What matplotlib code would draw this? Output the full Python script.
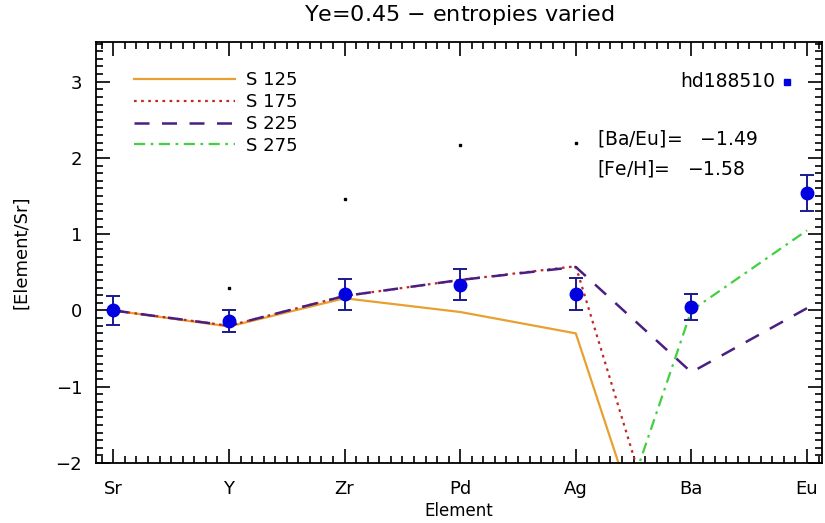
import numpy as np
import matplotlib
matplotlib.use("Agg")
import matplotlib.pyplot as plt
from matplotlib.ticker import MultipleLocator, AutoMinorLocator

# elements along the x axis
elements = ["Sr", "Y", "Zr", "Pd", "Ag", "Ba", "Eu"]

# observed abundances of hd188510 with errors
obs = [0.0, -0.14, 0.21, 0.34, 0.21, 0.04, 1.54]
obs_err = [0.19, 0.14, 0.20, 0.20, 0.21, 0.17, 0.24]

# model curves for the different entropies (values below -2 run off the plot)
s125 = [0.0, -0.21, 0.16, -0.02, -0.30, -4.9, -4.5]
s175 = [0.0, -0.20, 0.19, 0.40, 0.58, -4.4, -4.0]
s225 = [0.0, -0.20, 0.19, 0.40, 0.57, -0.81, 0.03]
s275 = [np.nan, np.nan, np.nan, np.nan, -4.45, 0.0, 1.05]

# stray small points in the original plot
dot_x = [1, 2, 3, 4]
dot_y = [0.29, 1.46, 2.17, 2.20]

x = np.arange(len(elements))

fig = plt.figure(figsize=(8.25, 5.23), dpi=100)
ax = fig.add_axes([0.1164, 0.1147, 0.880, 0.805])

ax.plot(x, s125, color="#e8a030", lw=1.6, ls="-", label="S 125")
ax.plot(x, s175, color="#c02828", lw=1.6, ls=(0, (1.2, 2)), label="S 175")
ax.plot(x, s225, color="#4a1e82", lw=1.8, ls=(0, (6, 5)), label="S 225")
ax.plot(x, s275, color="#40d040", lw=1.6, ls=(0, (5, 2.5, 1.2, 2.5)), label="S 275")

ax.errorbar(x, obs, yerr=obs_err, fmt="o", color="#0000e0", ecolor="#1a1a90",
            ms=9, capsize=5, elinewidth=1.4, capthick=1.4, zorder=5)
ax.plot(dot_x, dot_y, "s", color="black", ms=2, ls="none")

ax.set_xlim(-0.15, 6.13)
ax.set_ylim(-2, 3.52)
ax.set_xticks(x)
ax.set_xticklabels(elements)
ax.yaxis.set_major_locator(MultipleLocator(1))
ax.xaxis.set_minor_locator(AutoMinorLocator(10))
ax.yaxis.set_minor_locator(AutoMinorLocator(10))
ax.tick_params(which="both", direction="in", top=True, right=True, labelsize=13, width=1.2)
ax.tick_params(which="major", length=10)
ax.tick_params(axis="x", which="major", pad=12)
ax.tick_params(axis="y", which="major", pad=10)
ax.tick_params(which="minor", length=5)
for sp in ax.spines.values():
    sp.set_linewidth(1.3)

ax.set_title("Ye=0.45 $-$ entropies varied", fontsize=16, pad=15)
ax.set_xlabel("Element", fontsize=12, labelpad=3)
ax.set_ylabel("[Element/Sr]", fontsize=13, labelpad=18)

ax.legend(loc="upper left", bbox_to_anchor=(0.03, 0.97), frameon=False,
          fontsize=13, handlelength=5.6, handletextpad=0.6, labelspacing=0.22)

ax.text(0.935, 0.905, "hd188510", transform=ax.transAxes, ha="right", va="center", fontsize=13.5)
ax.plot([0.952], [0.905], "s", color="#0000e0", ms=5, transform=ax.transAxes)
ax.text(0.69, 0.77, "[Ba/Eu]=   $-$1.49", transform=ax.transAxes, ha="left", va="center", fontsize=13.5)
ax.text(0.69, 0.70, "[Fe/H]=   $-$1.58", transform=ax.transAxes, ha="left", va="center", fontsize=13.5)

fig.savefig("out.png", dpi=100)
